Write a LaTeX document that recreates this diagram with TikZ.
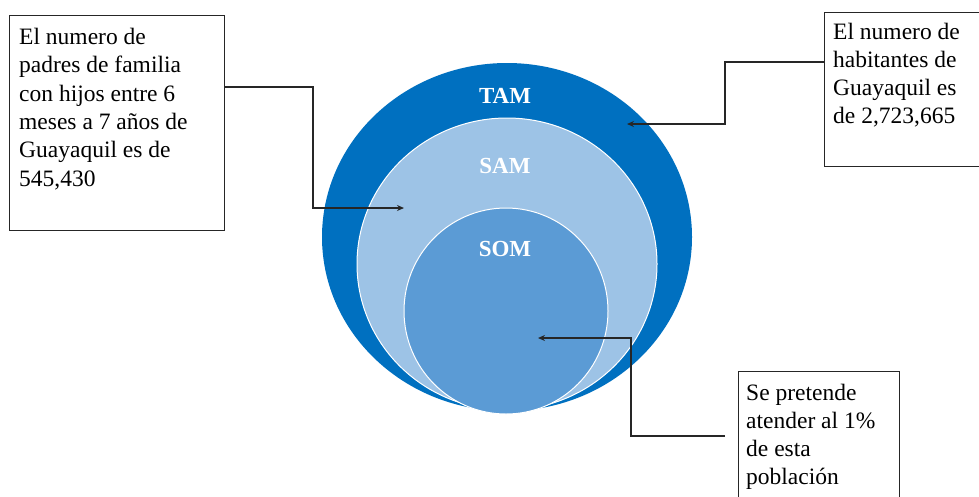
\documentclass[tikz,border=0pt]{standalone}
\usepackage{fontspec}
\setmainfont{Liberation Serif}
\usetikzlibrary{calc,arrows.meta}
\definecolor{tamblue}{HTML}{0070C0}
\definecolor{samblue}{HTML}{9DC3E6}
\definecolor{somblue}{HTML}{5B9BD5}
\definecolor{linegray}{HTML}{262626}
\newcommand\notefont{\fontsize{23.5}{28.3}\selectfont}
\newcommand\notetext[2]{\parbox[t]{#1}{\notefont\raggedright #2}}
\begin{document}
\begin{tikzpicture}[x=1pt,y=-1pt,
  notebox/.style={draw=linegray,line width=1.4pt,fill=none,inner sep=0pt,anchor=north west},
  notelabel/.style={anchor=base west,inner sep=0pt,text=black},
  ring/.style={draw=white,line width=1pt},
  marketlabel/.style={text=white,font=\fontsize{23}{26}\selectfont\bfseries},
  pointer/.style={draw=linegray,line width=1.4pt,-{Stealth[length=7pt,width=6pt]}}]
\useasboundingbox (0,0) rectangle (979,496);

% nested market circles
\fill[tamblue] (507,237) ellipse [x radius=185,y radius=174];
\filldraw[fill=samblue,ring] (507,264) ellipse [x radius=150,y radius=146];
\filldraw[fill=somblue,ring] (506,311) ellipse [x radius=102,y radius=103];

\node[marketlabel] (tam) at (505,96) {TAM};
\node[marketlabel] (sam) at (505,166) {SAM};
\node[marketlabel] (som) at (505,249) {SOM};

% arrow targets inside the rings
\coordinate (tamtip) at (627,124);
\coordinate (samtip) at (404,208);
\coordinate (somtip) at (538,338);

% note boxes
\node[notebox,minimum width=215pt,minimum height=215pt] (lbox) at (9,15) {};
\node[notelabel] (ltext) at (19,44.5) {\notetext{200pt}{El numero de\\ padres de familia\\ con hijos entre 6\\ meses a 7 años de\\ Guayaquil es de\\ 545,430}};

\node[notebox,minimum width=165pt,minimum height=154pt] (rbox) at (824,12) {};
\node[notelabel] (rtext) at (833,39) {\notetext{150pt}{El numero de\\ habitantes de\\ Guayaquil es\\ de 2,723,665}};

\node[notebox,minimum width=161pt,minimum height=145pt] (bbox) at (738,371) {};
\node[notelabel] (btext) at (746,400) {\notetext{150pt}{Se pretende\\ atender al 1\%\\ de esta\\ población}};

% connectors
\coordinate (lstart) at ($(lbox.north east)+(0,72)$);
\draw[pointer] (lstart) -- (313,87) -- (313,208) -- (samtip);

\coordinate (rstart) at ($(rbox.north west)+(0,50)$);
\draw[pointer] (rstart) -- (725,62) -- (725,124) -- (tamtip);

\coordinate (bstart) at ($(bbox.north west)+(-13,65)$);
\draw[pointer] (bstart) -- (631,436) -- (631,338) -- (somtip);
\end{tikzpicture}
\end{document}
